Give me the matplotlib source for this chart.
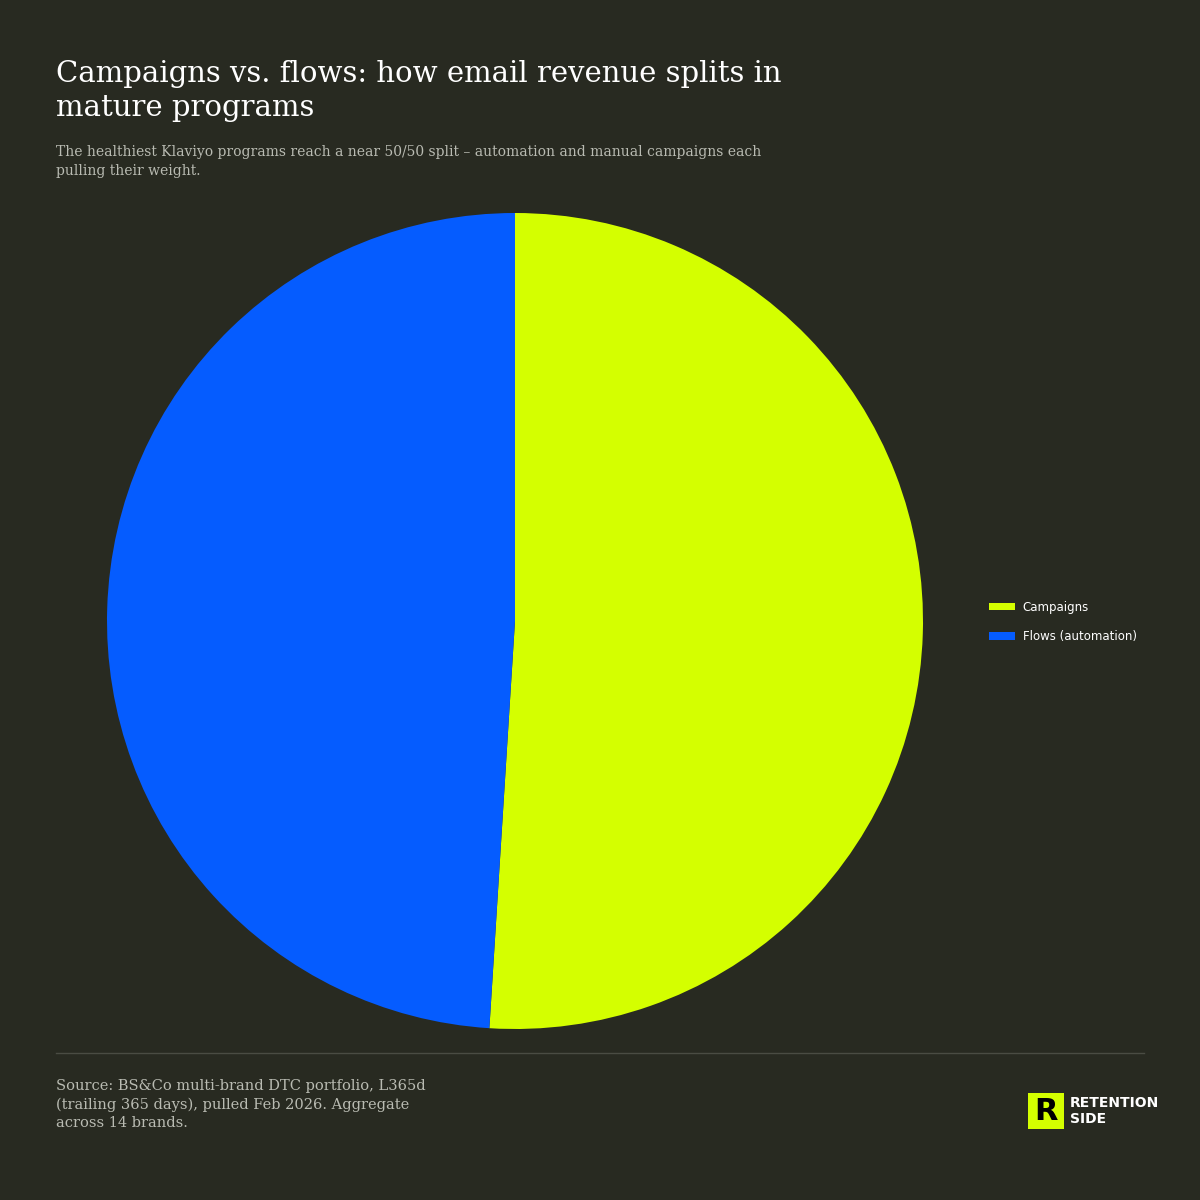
import matplotlib
matplotlib.use("Agg")
import matplotlib.pyplot as plt
from matplotlib.patches import Rectangle

categories = ["Campaigns", "Flows (automation)"]
values = [51, 49]
colors = ["#d4ff00", "#055cff"]

title = "Campaigns vs. flows: how email revenue splits in\nmature programs"
subtitle = "The healthiest Klaviyo programs reach a near 50/50 split \u2013 automation and manual campaigns each\npulling their weight."
source = "Source: BS&Co multi-brand DTC portfolio, L365d\n(trailing 365 days), pulled Feb 2026. Aggregate\nacross 14 brands."

BG = "#282a21"
W = H = 1200
fig = plt.figure(figsize=(12, 12), dpi=100, facecolor=BG)

ax = fig.add_axes([(515 - 408) / W, 1 - (621 + 408) / H, 816 / W, 816 / H])
ax.set_facecolor(BG)
wedges, _ = ax.pie(values, colors=colors, startangle=90, counterclock=False,
                   wedgeprops=dict(linewidth=0), radius=1)
ax.set_xlim(-1, 1)
ax.set_ylim(-1, 1)
ax.set_aspect("equal")
ax.axis("off")

fig.text(56 / W, 1 - 60 / H, title, fontsize=21, family="DejaVu Serif", color="white",
         va="top", ha="left", linespacing=1.25)
fig.text(56 / W, 1 - 145 / H, subtitle, fontsize=10, family="DejaVu Serif", color="#b9bbb2",
         va="top", ha="left", linespacing=1.5)

leg = fig.legend(wedges, categories, loc="center left", bbox_to_anchor=(978 / W, 1 - 622 / H),
                 frameon=False, fontsize=8.5, labelcolor="white", handlelength=2.2,
                 handleheight=0.6, labelspacing=1.4, handletextpad=0.7)

fig.add_artist(plt.Line2D([56 / W, 1144 / W], [1 - 1053 / H] * 2, color="#4a4c43", lw=1))

fig.text(56 / W, 1 - 1079 / H, source, fontsize=10.5, family="DejaVu Serif", color="#b9bbb2",
         va="top", ha="left", linespacing=1.4)

fig.add_artist(Rectangle((1028 / W, 1 - 1129 / H), 36 / W, 36 / H, transform=fig.transFigure,
                         facecolor="#d4ff00", edgecolor="none"))
fig.text(1046 / W, 1 - 1111 / H, "R", fontsize=22, fontweight="bold", color="black",
         ha="center", va="center")
fig.text(1070 / W, 1 - 1111 / H, "RETENTION\nSIDE", fontsize=10, fontweight="bold",
         family="DejaVu Sans", color="white", ha="left", va="center", linespacing=1.2)

fig.savefig("out.png", dpi=100, facecolor=BG)
